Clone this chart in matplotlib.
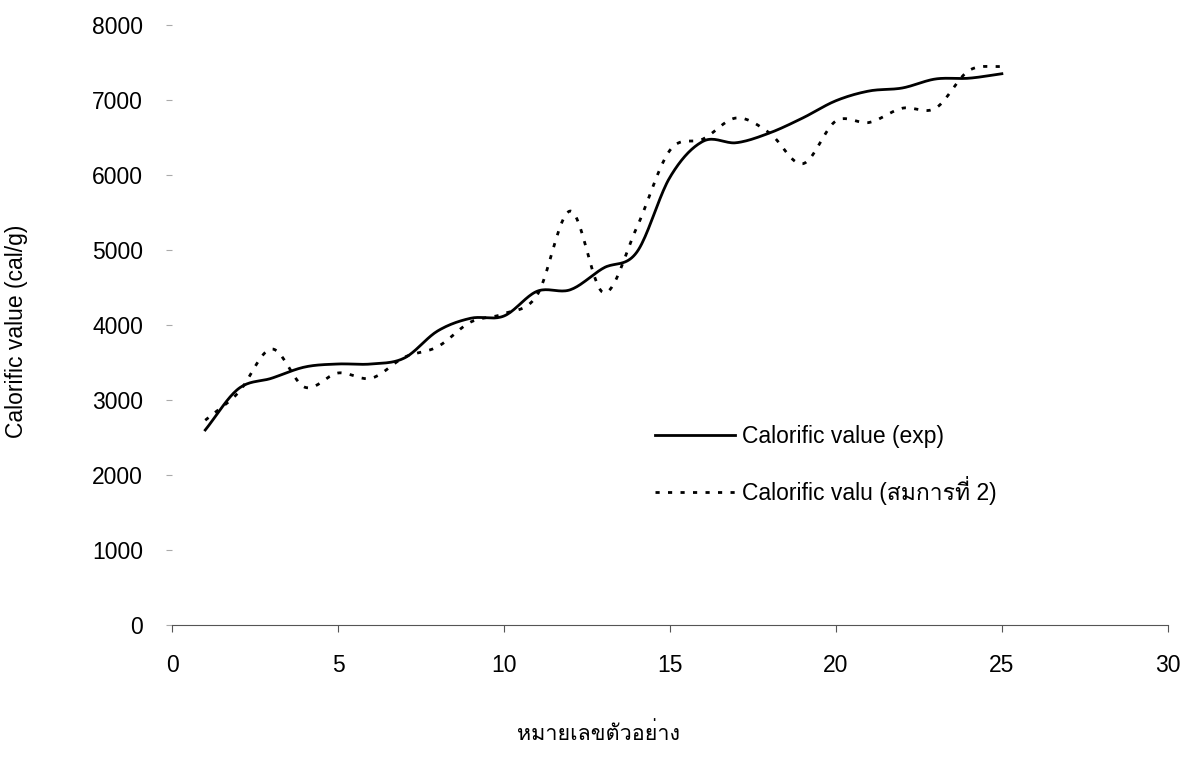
import numpy as np
import matplotlib
matplotlib.use("Agg")
import matplotlib.pyplot as plt

# sample number 1..25
samples = list(range(1, 26))
cal_exp = [2600, 3150, 3290, 3440, 3480, 3480, 3560, 3920, 4090, 4120,
           4450, 4470, 4760, 4970, 5970, 6450, 6430, 6560, 6760, 6990,
           7120, 7160, 7280, 7290, 7350]
cal_eq2 = [2730, 3100, 3680, 3170, 3360, 3290, 3570, 3710, 4040, 4150,
           4400, 5520, 4430, 5300, 6330, 6480, 6760, 6560, 6150, 6720,
           6700, 6890, 6890, 7390, 7450]

xticks = [0, 5, 10, 15, 20, 25, 30]
yticks = [0, 1000, 2000, 3000, 4000, 5000, 6000, 7000, 8000]

# Loma puts the tone mark above sara ii (matplotlib does no thai shaping)
plt.rcParams["font.family"] = ["Liberation Sans", "Loma", "DejaVu Sans"]


def smooth(x, y, n=20):
    # catmull-rom through the points, like excel's smoothed line
    x = np.asarray(x, float)
    y = np.asarray(y, float)
    px = np.concatenate([[2 * x[0] - x[1]], x, [2 * x[-1] - x[-2]]])
    py = np.concatenate([[2 * y[0] - y[1]], y, [2 * y[-1] - y[-2]]])
    xs, ys = [], []
    t = np.linspace(0, 1, n, endpoint=False)
    for i in range(1, len(px) - 2):
        for arr, out in ((px, xs), (py, ys)):
            p0, p1, p2, p3 = arr[i - 1], arr[i], arr[i + 1], arr[i + 2]
            out.extend(0.5 * (2 * p1 + (-p0 + p2) * t
                              + (2 * p0 - 5 * p1 + 4 * p2 - p3) * t ** 2
                              + (-p0 + 3 * p1 - 3 * p2 + p3) * t ** 3))
    xs.append(x[-1])
    ys.append(y[-1])
    return xs, ys


fig = plt.figure(figsize=(11.99, 7.76), dpi=100)
ax = fig.add_axes([0.1435, 0.1946, 0.8305, 0.7732])

sx, sy = smooth(samples, cal_exp)
ax.plot(sx, sy, color="black", lw=2.0, label="Calorific value (exp)")
sx, sy = smooth(samples, cal_eq2)
ax.plot(sx, sy, color="black", lw=2.0, linestyle=(0, (1.5, 3)),
        label="Calorific valu (สมการที่ 2)")

ax.set_xlim(0, 30)
ax.set_ylim(0, 8000)
ax.set_xticks(xticks)
ax.set_yticks(yticks)
for s in ["top", "right", "left"]:
    ax.spines[s].set_visible(False)
ax.spines["bottom"].set_color("#555555")
ax.spines["bottom"].set_linewidth(0.8)
ax.tick_params(axis="x", direction="out", length=5, color="#555555",
               labelsize=16.5, pad=16)
ax.tick_params(axis="y", direction="out", length=4, color="#aaaaaa",
               labelsize=16.5, pad=17)

ax.set_ylabel("Calorific value (cal/g)", fontsize=16.5)
ax.yaxis.set_label_coords(-0.145, 0.49)
ax.set_xlabel("หมายเลขตัวอย่าง", fontsize=15.5)
ax.xaxis.set_label_coords(0.428, -0.163)

ax.legend(loc="upper left", bbox_to_anchor=(0.464, 0.368), frameon=False,
          fontsize=16.5, handlelength=3.5, handletextpad=0.3, labelspacing=1.23)

fig.savefig("out.png", dpi=100)
